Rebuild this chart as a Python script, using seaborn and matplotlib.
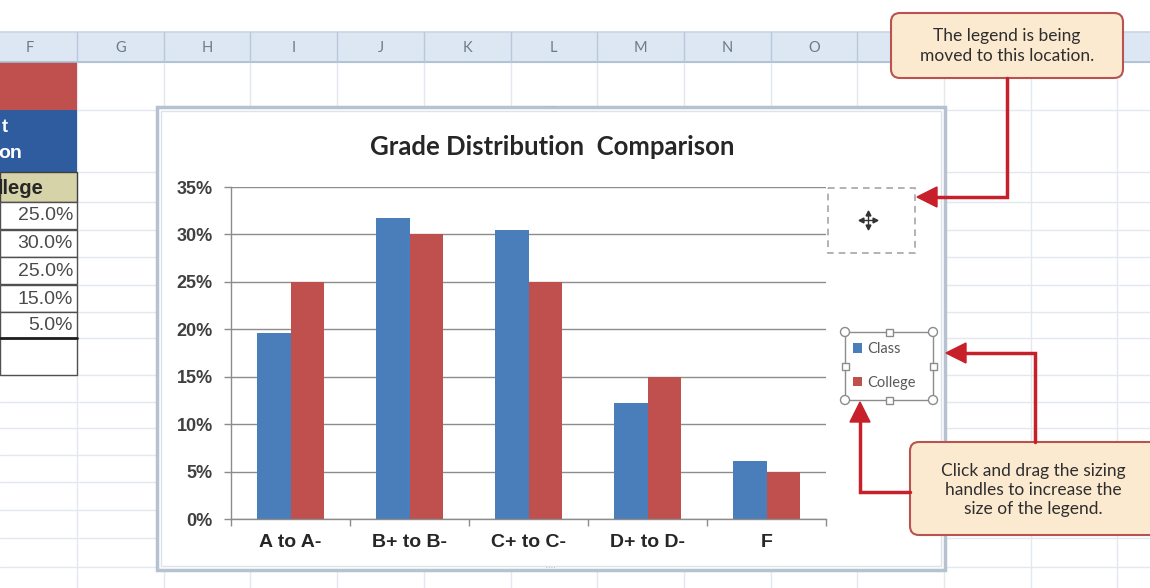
import numpy as np
import pandas as pd
import matplotlib
matplotlib.use("Agg")
import matplotlib.pyplot as plt
import matplotlib.patches as mpatches
from matplotlib.ticker import PercentFormatter
import seaborn as sns

# ---------------------------------------------------------------------------
# Data
# ---------------------------------------------------------------------------
GRADES = ["A to A-", "B+ to B-", "C+ to C-", "D+ to D-", "F"]
CLASS_PCT = [0.196, 0.317, 0.305, 0.122, 0.061]
COLLEGE_PCT = [0.25, 0.30, 0.25, 0.15, 0.05]
SERIES = ["Class", "College"]
SERIES_COLORS = ["#4a7ebb", "#c0504d"]
Y_TICKS = [0.0, 0.05, 0.10, 0.15, 0.20, 0.25, 0.30, 0.35]
SHEET_COLS = ["F", "G", "H", "I", "J", "K", "L", "M", "N", "O"]
TITLE = "Grade Distribution  Comparison"
NOTE_TOP = "The legend is being\nmoved to this location."
NOTE_BOTTOM = "Click and drag the sizing\nhandles to increase the\nsize of the legend."

df = pd.DataFrame({
    "grade": GRADES * 2,
    "pct": CLASS_PCT + COLLEGE_PCT,
    "series": [SERIES[0]] * len(GRADES) + [SERIES[1]] * len(GRADES),
})

sns.set_theme(style="white")
plt.rcParams["font.family"] = ["Liberation Sans", "DejaVu Sans"]

W, H = 1150, 588
RED = "#c8202a"
GRID = "#e3e8ee"


def fig_rect(x0, y0, x1, y1):
    return [x0 / W, 1 - y1 / H, (x1 - x0) / W, (y1 - y0) / H]


fig = plt.figure(figsize=(W / 100, H / 100), dpi=100)
bg = fig.add_axes([0, 0, 1, 1])
bg.set_xlim(0, W)
bg.set_ylim(H, 0)
bg.axis("off")

# ---------------------------------------------------------------------------
# Spreadsheet background
# ---------------------------------------------------------------------------
col_edges = [77 + 86.7 * i for i in range(13)]
row_edges = [62, 110, 172, 202, 230, 257, 285, 312, 338, 375, 402, 428, 455, 482, 510, 538, 567]
for x in col_edges:
    bg.plot([x, x], [62, H], color=GRID, lw=1, zorder=1)
for y in row_edges:
    bg.plot([0, W], [y, y], color=GRID, lw=1, zorder=1)

bg.add_patch(mpatches.Rectangle((0, 32), W, 30, facecolor="#dde7f3", edgecolor="none", zorder=2))
bg.plot([0, W], [32, 32], color="#c9d5e3", lw=1.2, zorder=3)
bg.plot([0, W], [62, 62], color="#a9bcd4", lw=1.2, zorder=3)
for x in col_edges:
    bg.plot([x, x], [32, 62], color="#b9c8da", lw=1, zorder=3)
col_centers = [30] + [(col_edges[i] + col_edges[i + 1]) / 2 for i in range(len(SHEET_COLS) - 1)]
for name, cx in zip(SHEET_COLS, col_centers):
    bg.text(cx, 48, name, ha="center", va="center", fontsize=10.5, color="#6b7a8c",
            family=["Lato", "DejaVu Sans"], zorder=4)

# table fragment in column F
bg.add_patch(mpatches.Rectangle((0, 62), 77, 48, facecolor="#c0504d", edgecolor="none", zorder=2))
bg.add_patch(mpatches.Rectangle((0, 110), 77, 62, facecolor="#2e5c9e", edgecolor="none", zorder=2))
bg.add_patch(mpatches.Rectangle((0, 172), 77, 30, facecolor="#d6d3a8", edgecolor="#404040", lw=1, zorder=2))
bg.text(2, 128, "t", ha="left", va="center", fontsize=13, weight="bold", color="white", zorder=4)
bg.text(-2, 153, "on", ha="left", va="center", fontsize=14, weight="bold", color="white", zorder=4)
bg.text(-2, 188, "llege", ha="left", va="center", fontsize=14.5, weight="bold", color="#262626", zorder=4)
cell_tops = [202, 230, 257, 285, 312]
for top, v in zip(cell_tops, COLLEGE_PCT):
    bg.add_patch(mpatches.Rectangle((0, top), 77, 27, facecolor="white", edgecolor="#505050", lw=1, zorder=2))
    bg.text(73, top + 14, f"{v * 100:.1f}%", ha="right", va="center", fontsize=14,
            color="#4a4a4a", zorder=4)
bg.add_patch(mpatches.Rectangle((0, 338), 77, 37, facecolor="white", edgecolor="#505050", lw=1, zorder=2))
bg.plot([0, 77], [338, 338], color="#202020", lw=2, zorder=4)

# ---------------------------------------------------------------------------
# Chart frame
# ---------------------------------------------------------------------------
bg.add_patch(mpatches.Rectangle((157, 107), 788, 463, facecolor="white", edgecolor="#b6c2cf", lw=2.5, zorder=5))
bg.add_patch(mpatches.Rectangle((161, 111), 780, 455, facecolor="none", edgecolor="#dbe2ea", lw=1, zorder=5))
for gx, gy in [(551, 108), (551, 569)]:
    bg.text(gx, gy, "····", ha="center", va="center", fontsize=6, color="#9aa5b1", zorder=6)

# dashed target box and move cursor
bg.add_patch(mpatches.Rectangle((828, 188), 87, 65, facecolor="none", edgecolor="#a5a5a5",
                                lw=1.2, ls=(0, (4, 3)), zorder=6))
bg.plot([861, 875], [220, 220], color="#333333", lw=1, zorder=7)
bg.plot([868, 868], [213, 227], color="#333333", lw=1, zorder=7)
for mx, my, m in [(861, 220, "<"), (875, 220, ">"), (868, 213, "^"), (868, 227, "v")]:
    bg.plot(mx, my, marker=m, ms=3.5, color="#333333", zorder=7)

# legend box with sizing handles
bg.add_patch(mpatches.Rectangle((845, 332), 88, 68, facecolor="none", edgecolor="#8c8c8c", lw=1, zorder=6))
for hx in [845, 889, 933]:
    for hy in [332, 366, 400]:
        if hx == 889 and hy == 366:
            continue
        if hx != 889 and hy != 366:
            bg.add_patch(mpatches.Circle((hx, hy), 4.5, facecolor="white", edgecolor="#8c8c8c", lw=1, zorder=7))
        else:
            bg.add_patch(mpatches.Rectangle((hx - 3.5, hy - 3.5), 7, 7, facecolor="white",
                                            edgecolor="#8c8c8c", lw=1, zorder=7))

# ---------------------------------------------------------------------------
# Callouts and arrows
# ---------------------------------------------------------------------------
note_style = dict(boxstyle="round,pad=0,rounding_size=9", facecolor="#fcead0", edgecolor="#b8534f", lw=1.5)
bg.add_patch(mpatches.FancyBboxPatch((891, 13), 232, 65, zorder=8, **note_style))
bg.add_patch(mpatches.FancyBboxPatch((910, 442), 260, 93, zorder=8, **note_style))
bg.text(1007, 46, NOTE_TOP, ha="center", va="center", fontsize=12.5, color="#2e2e2e",
        family=["Lato", "DejaVu Sans"], linespacing=1.25, zorder=9)
bg.text(1033, 490, NOTE_BOTTOM, ha="center", va="center", fontsize=12.5, color="#2e2e2e",
        family=["Lato", "DejaVu Sans"], linespacing=1.2, zorder=9)


def red_arrow(points, tip, direction):
    xs = [p[0] for p in points]
    ys = [p[1] for p in points]
    bg.plot(xs, ys, color=RED, lw=2.5, solid_joinstyle="miter", zorder=9)
    tx, ty = tip
    if direction == "left":
        tri = [(tx, ty), (tx + 20, ty - 10), (tx + 20, ty + 10)]
    else:
        tri = [(tx, ty), (tx - 10, ty + 20), (tx + 10, ty + 20)]
    bg.add_patch(mpatches.Polygon(tri, closed=True, facecolor=RED, edgecolor=RED, zorder=9))


red_arrow([(1007, 78), (1007, 197), (935, 197)], (917, 197), "left")
red_arrow([(910, 492), (860, 492), (860, 420)], (860, 402), "up")
red_arrow([(1035, 442), (1035, 353), (964, 353)], (946, 353), "left")

# ---------------------------------------------------------------------------
# Bar chart
# ---------------------------------------------------------------------------
ax = fig.add_axes(fig_rect(231, 187, 826, 519))
ax.patch.set_alpha(0)
sns.barplot(data=df, x="grade", y="pct", hue="series", palette=SERIES_COLORS,
            width=0.57, saturation=1, linewidth=0, ax=ax, legend=False)
ax.set_xlim(-0.5, len(GRADES) - 0.5)
ax.set_ylim(0, 0.35)
ax.set_yticks(Y_TICKS)
ax.yaxis.set_major_formatter(PercentFormatter(1.0, decimals=0))
ax.yaxis.grid(True, color="#8c8c8c", lw=1)
ax.set_axisbelow(True)
ax.set_xlabel("")
ax.set_ylabel("")
for side in ["top", "right"]:
    ax.spines[side].set_visible(False)
for side in ["left", "bottom"]:
    ax.spines[side].set_color("#8c8c8c")
    ax.spines[side].set_linewidth(1)
ax.set_xticks(np.arange(-0.5, len(GRADES)), minor=True)
ax.tick_params(axis="x", which="major", length=0, pad=11, labelsize=14, labelcolor="#262626")
ax.tick_params(axis="x", which="minor", length=5, direction="out", color="#8c8c8c", width=1, bottom=True)
ax.tick_params(axis="y", length=5, direction="out", color="#8c8c8c", width=1, pad=8,
               labelsize=13, labelcolor="#404040", left=True)
for lbl in ax.get_xticklabels() + ax.get_yticklabels():
    lbl.set_fontweight("bold")

fig.text(552 / W, 1 - 155 / H, TITLE, ha="center", va="baseline", fontsize=18.5, weight="bold",
         color="#262626", family=["Lato", "DejaVu Sans"])

handles = [mpatches.Patch(facecolor=c, edgecolor="none") for c in SERIES_COLORS]
ax.legend(handles, SERIES, loc="upper left", bbox_to_anchor=(853 / W, 1 - 342 / H),
          bbox_transform=fig.transFigure, frameon=False, borderpad=0, borderaxespad=0,
          handlelength=0.65, handleheight=0.65, handletextpad=0.35,
          labelspacing=1.35, labelcolor="#595959", prop={"family": ["Lato", "DejaVu Sans"], "size": 10.5})

fig.savefig("out.png", dpi=100)
